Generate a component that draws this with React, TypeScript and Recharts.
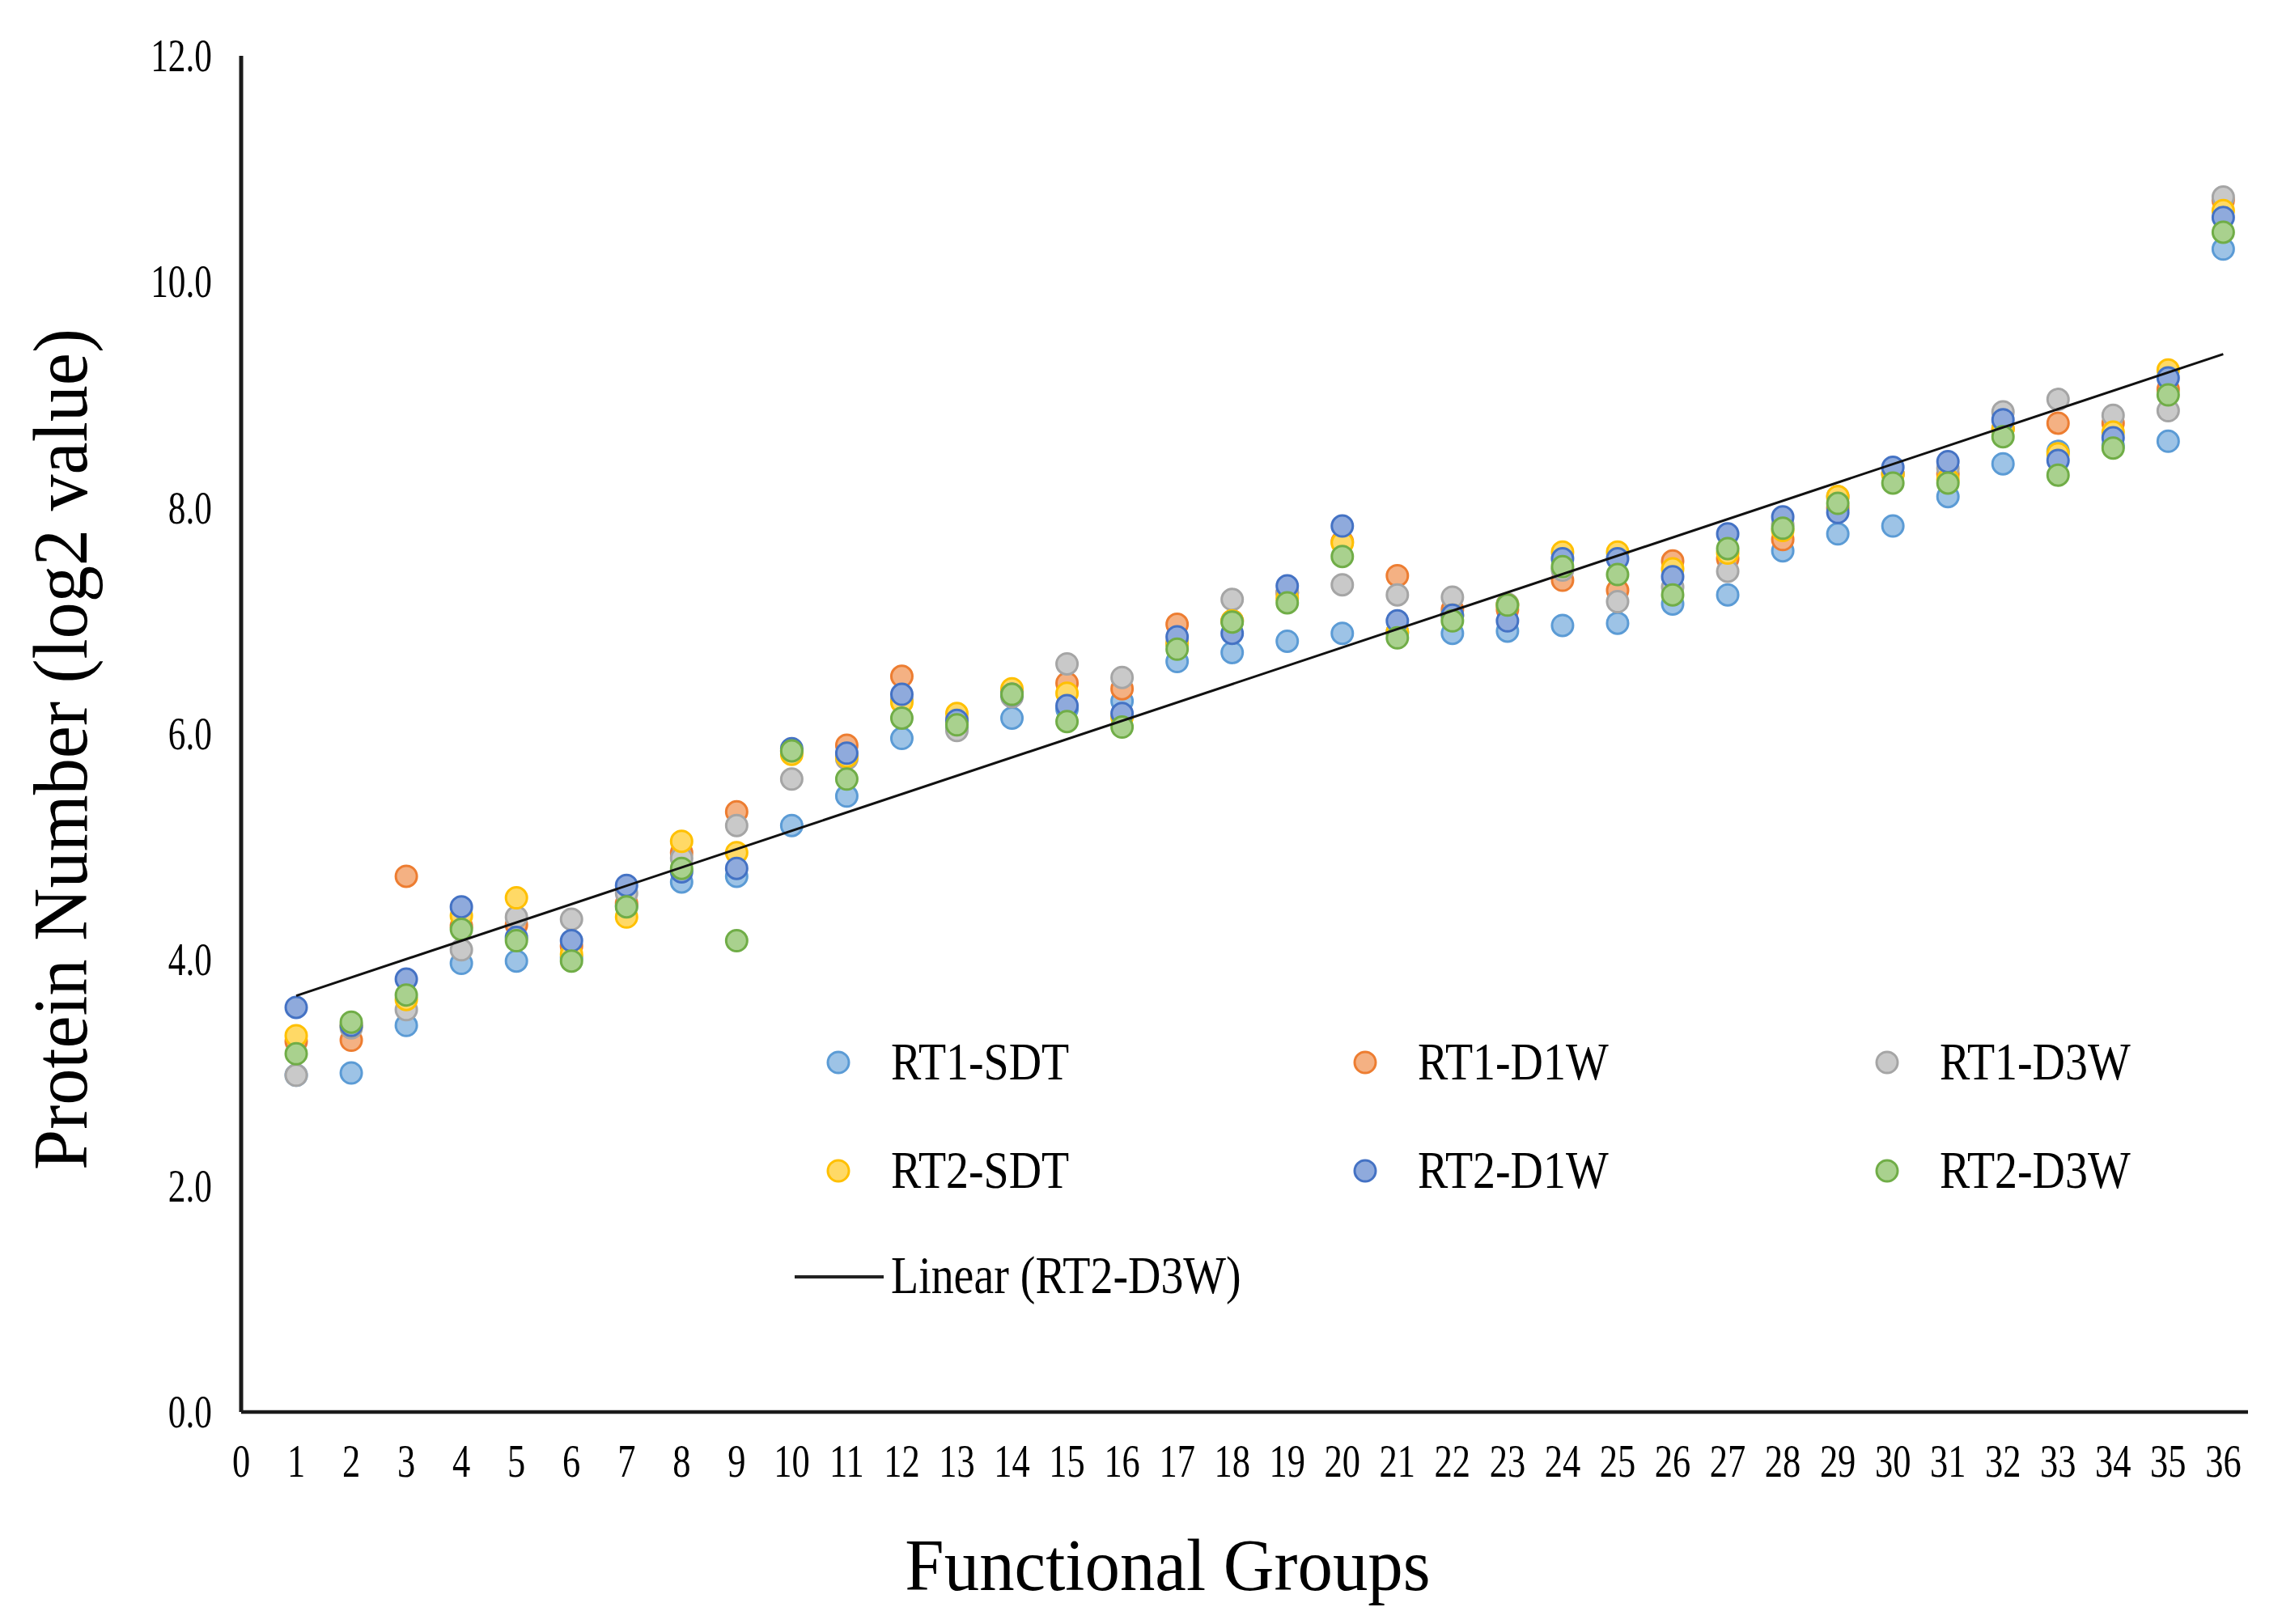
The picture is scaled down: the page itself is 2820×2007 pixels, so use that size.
import { ScatterChart, Scatter, XAxis, YAxis } from "recharts";

// functional group index on the x axis
const GROUPS = [
  1, 2, 3, 4, 5, 6, 7, 8, 9, 10, 11, 12, 13, 14, 15, 16, 17, 18, 19, 20, 21,
  22, 23, 24, 25, 26, 27, 28, 29, 30, 31, 32, 33, 34, 35, 36,
];

const X_TICKS = [
  0, 1, 2, 3, 4, 5, 6, 7, 8, 9, 10, 11, 12, 13, 14, 15, 16, 17, 18, 19, 20,
  21, 22, 23, 24, 25, 26, 27, 28, 29, 30, 31, 32, 33, 34, 35, 36,
];
const Y_TICKS = [0, 2, 4, 6, 8, 10, 12];

// log2 protein numbers
const RT1_SDT = [
  2.98, 3.0, 3.42, 3.97, 3.99, 4.02, 4.48, 4.69, 4.74, 5.19, 5.45, 5.96, 6.05,
  6.14, 6.22, 6.29, 6.64, 6.72, 6.82, 6.89, 6.9, 6.89, 6.91, 6.96, 6.98, 7.15,
  7.23, 7.62, 7.77, 7.84, 8.1, 8.39, 8.5, 8.55, 8.59, 10.29,
];
const RT1_D1W = [
  3.28, 3.29, 4.74, 4.3, 4.31, 4.12, 4.5, 4.95, 5.31, 5.85, 5.9, 6.51, 6.12,
  6.38, 6.45, 6.4, 6.97, 7.0, 7.25, 7.7, 7.4, 7.1, 7.1, 7.36, 7.27, 7.53, 7.55,
  7.72, 8.0, 8.3, 8.3, 8.7, 8.75, 8.75, 9.05, 10.72,
];
const RT1_D3W = [
  2.98, 3.4, 3.56, 4.09, 4.38, 4.36, 4.59, 4.9, 5.19, 5.6, 5.78, 6.3, 6.03,
  6.33, 6.62, 6.5, 6.8, 7.19, 7.25, 7.32, 7.23, 7.21, 7.15, 7.45, 7.17, 7.3,
  7.44, 7.85, 8.1, 8.3, 8.35, 8.85, 8.96, 8.82, 8.86, 10.75,
];
const RT2_SDT = [
  3.33, 3.42, 3.65, 4.39, 4.55, 4.05, 4.38, 5.05, 4.95, 5.82, 5.8, 6.28, 6.18,
  6.4, 6.36, 6.15, 6.8, 7.0, 7.2, 7.69, 6.9, 7.05, 7.14, 7.61, 7.61, 7.46, 7.6,
  7.8, 8.1, 8.3, 8.25, 8.7, 8.48, 8.67, 9.22, 10.63,
];
const RT2_D1W = [
  3.58, 3.42, 3.83, 4.47, 4.2, 4.17, 4.66, 4.78, 4.81, 5.87, 5.83, 6.35, 6.12,
  6.35, 6.25, 6.18, 6.86, 6.89, 7.31, 7.84, 7.0, 7.05, 7.0, 7.55, 7.55, 7.39,
  7.77, 7.92, 7.96, 8.36, 8.41, 8.78, 8.42, 8.62, 9.15, 10.57,
];
const RT2_D3W = [
  3.17, 3.45, 3.69, 4.27, 4.17, 3.99, 4.47, 4.81, 4.17, 5.85, 5.6, 6.14, 6.08,
  6.35, 6.11, 6.06, 6.75, 6.99, 7.16, 7.57, 6.85, 7.0, 7.14, 7.48, 7.41, 7.23,
  7.64, 7.82, 8.04, 8.22, 8.22, 8.63, 8.29, 8.53, 9.0, 10.44,
];

const SERIES_NAMES = ["RT1-SDT", "RT1-D1W", "RT1-D3W", "RT2-SDT", "RT2-D1W", "RT2-D3W"];
const SERIES_VALUES = [RT1_SDT, RT1_D1W, RT1_D3W, RT2_SDT, RT2_D1W, RT2_D3W];
const TREND_NAME = "Linear (RT2-D3W)";

// excel office palette: outline + lighter fill
const STROKES = ["#5B9BD5", "#ED7D31", "#A5A5A5", "#FFC000", "#4472C4", "#70AD47"];
const FILLS = ["#9DC3E6", "#F4B183", "#C9C9C9", "#FFD966", "#8FAADC", "#A9D18E"];

const FONT = "'Liberation Serif', 'Times New Roman', serif";

const toPoints = (vals: number[]) => GROUPS.map((g, i) => ({ x: g, y: vals[i] }));

// least squares fit like excel's linear trendline
function linearFit(xs: number[], ys: number[]) {
  const n = xs.length;
  const mx = xs.reduce((a, b) => a + b, 0) / n;
  const my = ys.reduce((a, b) => a + b, 0) / n;
  let sxy = 0;
  let sxx = 0;
  for (let i = 0; i < n; i++) {
    sxy += (xs[i] - mx) * (ys[i] - my);
    sxx += (xs[i] - mx) * (xs[i] - mx);
  }
  const slope = sxy / sxx;
  return { slope, icept: my - slope * mx };
}

const fit = linearFit(GROUPS, RT2_D3W);
const trendData = [GROUPS[0], GROUPS[GROUPS.length - 1]].map((x) => ({
  x,
  y: fit.icept + fit.slope * x,
}));

const makeDot = (idx: number) => (props: any) => (
  <circle
    cx={props.cx}
    cy={props.cy}
    r={13}
    fill={FILLS[idx]}
    stroke={STROKES[idx]}
    strokeWidth={3}
  />
);

const YTick = (props: any) => {
  const { x, y, payload } = props;
  return (
    <text
      transform={`translate(${x},${y + 19}) scale(0.76,1)`}
      textAnchor="end"
      fontFamily={FONT}
      fontSize={57}
      fill="#000"
    >
      {Number(payload.value).toFixed(1)}
    </text>
  );
};

const XTick = (props: any) => {
  const { x, y, payload } = props;
  return (
    <text
      transform={`translate(${x},${y + 38}) scale(0.78,1)`}
      textAnchor="middle"
      fontFamily={FONT}
      fontSize={57}
      fill="#000"
    >
      {payload.value}
    </text>
  );
};

function Overlay() {
  const colX = [1036, 1687, 2332];
  const rowY = [1313, 1447];
  const textStyle = { fontFamily: FONT, fontSize: 65, fill: "#000" };
  return (
    <svg
      width={2820}
      height={2007}
      style={{ position: "absolute", left: 0, top: 0, pointerEvents: "none" }}
    >
      {SERIES_NAMES.map((name, i) => {
        const cx = colX[i % 3];
        const cy = rowY[Math.floor(i / 3)];
        return (
          <g key={name}>
            <circle cx={cx} cy={cy} r={13} fill={FILLS[i]} stroke={STROKES[i]} strokeWidth={3} />
            <text transform={`translate(${cx + 65},${cy + 21}) scale(0.86,1)`} {...textStyle}>
              {name}
            </text>
          </g>
        );
      })}
      <line x1={982} y1={1578} x2={1092} y2={1578} stroke="#222" strokeWidth={4} />
      <text transform={`translate(1101,1598) scale(0.86,1)`} {...textStyle}>
        {TREND_NAME}
      </text>

      <text
        transform="translate(1443,1965) scale(0.955,1)"
        textAnchor="middle"
        fontFamily={FONT}
        fontSize={91}
        fill="#000"
      >
        Functional Groups
      </text>
      <text
        transform="translate(107,926) rotate(-90) scale(0.94,1)"
        textAnchor="middle"
        fontFamily={FONT}
        fontSize={96}
        fill="#000"
      >
        Protein Number (log2 value)
      </text>
    </svg>
  );
}

export default function App() {
  return (
    <div
      style={{
        position: "absolute",
        left: 0,
        top: 0,
        width: 2820,
        height: 2007,
        background: "#fff",
        overflow: "hidden",
      }}
    >
      <ScatterChart
        width={2820}
        height={2007}
        margin={{ top: 69, right: 42, bottom: 62, left: 0 }}
      >
        <XAxis
          type="number"
          dataKey="x"
          domain={[0, 36.45]}
          ticks={X_TICKS}
          interval={0}
          allowDataOverflow
          height={200}
          tickSize={0}
          tickMargin={42}
          tickLine={false}
          axisLine={{ stroke: "#1a1a1a", strokeWidth: 4.5 }}
          tick={<XTick />}
        />
        <YAxis
          type="number"
          dataKey="y"
          domain={[0, 12]}
          ticks={Y_TICKS}
          interval={0}
          width={298}
          tickSize={0}
          tickMargin={36}
          tickLine={false}
          axisLine={{ stroke: "#1a1a1a", strokeWidth: 5 }}
          tick={<YTick />}
        />
        {SERIES_NAMES.map((name, i) => (
          <Scatter
            key={name}
            name={name}
            data={toPoints(SERIES_VALUES[i])}
            shape={makeDot(i)}
            isAnimationActive={false}
          />
        ))}
        <Scatter
          name={TREND_NAME}
          data={trendData}
          line={{ stroke: "#111", strokeWidth: 3 }}
          shape={() => <g />}
          isAnimationActive={false}
        />
      </ScatterChart>
      <Overlay />
    </div>
  );
}
